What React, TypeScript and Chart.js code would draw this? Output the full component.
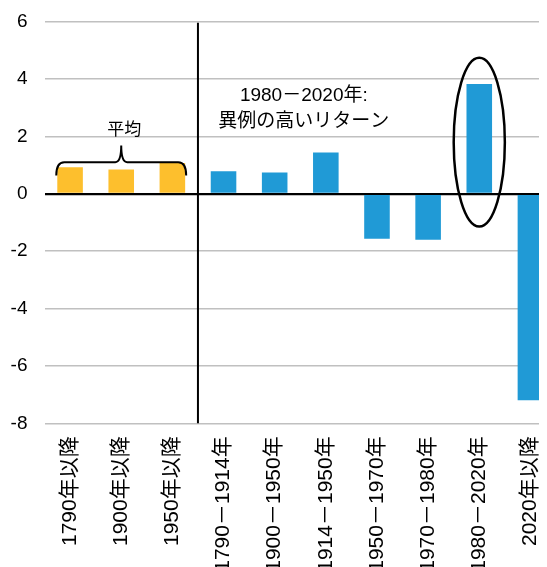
import React, { useEffect, useRef } from "react";
import { Chart, registerables } from "chart.js";

Chart.register(...registerables);

const categories = [
  "1790年以降",
  "1900年以降",
  "1950年以降",
  "1790－1914年",
  "1900－1950年",
  "1914－1950年",
  "1950－1970年",
  "1970－1980年",
  "1980－2020年",
  "2020年以降",
];
const values = [0.93, 0.85, 1.07, 0.79, 0.74, 1.44, -1.57, -1.6, 3.83, -7.2];
const averageCount = 3;
const yTicks = [6, 4, 2, 0, -2, -4, -6, -8];
const annotationLines = ["1980－2020年:", "異例の高いリターン"];
const braceLabel = "平均";

const YELLOW = "#FDBF2D";
const BLUE = "#209AD6";
const FONT = '"Liberation Sans", "Noto Sans CJK JP", sans-serif';

const annotationPlugin = {
  id: "annotations",
  afterDatasetsDraw(chart: any) {
    const { ctx, scales } = chart;
    const x = scales.x;
    const y = scales.y;
    const band = x.getPixelForValue(1) - x.getPixelForValue(0);
    ctx.save();

    // divider line
    const dx = (x.getPixelForValue(2) + x.getPixelForValue(3)) / 2;
    ctx.strokeStyle = "#000";
    ctx.lineWidth = 2;
    ctx.beginPath();
    ctx.moveTo(dx, y.getPixelForValue(6) + 1);
    ctx.lineTo(dx, y.getPixelForValue(-8));
    ctx.stroke();

    // brace
    const L = x.getPixelForValue(0) - 0.27 * band;
    const R = x.getPixelForValue(2) + 0.27 * band;
    const M = (L + R) / 2;
    const yH = y.getPixelForValue(1.1);
    const yE = y.getPixelForValue(0.64);
    const yT = y.getPixelForValue(1.68);
    ctx.lineWidth = 2;
    ctx.beginPath();
    ctx.moveTo(L, yE);
    ctx.quadraticCurveTo(L, yH, L + 8, yH);
    ctx.lineTo(M - 6, yH);
    ctx.quadraticCurveTo(M, yH, M, yT);
    ctx.quadraticCurveTo(M, yH, M + 6, yH);
    ctx.lineTo(R - 8, yH);
    ctx.quadraticCurveTo(R, yH, R, yE);
    ctx.stroke();

    ctx.fillStyle = "#000";
    ctx.textAlign = "center";
    ctx.textBaseline = "middle";
    ctx.font = `17px ${FONT}`;
    ctx.fillText(braceLabel, M + 3, y.getPixelForValue(2.2));

    // ellipse
    const ex = x.getPixelForValue(8);
    const ey = y.getPixelForValue(1.8);
    const ry = y.getPixelForValue(1.8) - y.getPixelForValue(4.74);
    ctx.lineWidth = 2.5;
    ctx.beginPath();
    ctx.ellipse(ex, ey, band * 0.5, ry, 0, 0, Math.PI * 2);
    ctx.stroke();

    // annotation text
    const tx = x.getPixelForValue(4) + 0.57 * band;
    ctx.font = `19px ${FONT}`;
    ctx.fillText(annotationLines[0], tx, y.getPixelForValue(3.43));
    ctx.fillText(annotationLines[1], tx, y.getPixelForValue(2.5));
    ctx.restore();
  },
};

export default function App() {
  const ref = useRef<HTMLCanvasElement>(null);
  useEffect(() => {
    document.documentElement.style.overflow = "hidden";
    const chart = new Chart(ref.current!, {
      type: "bar",
      data: {
        labels: categories,
        datasets: [
          {
            data: values,
            backgroundColor: values.map((_, i) => (i < averageCount ? YELLOW : BLUE)),
            categoryPercentage: 1,
            barPercentage: 0.5,
          },
        ],
      },
      options: {
        responsive: false,
        animation: false,
        layout: { padding: { top: 13.7, right: 0, left: 0, bottom: 0 } },
        plugins: { legend: { display: false }, tooltip: { enabled: false } },
        scales: {
          x: {
            grid: { display: false, drawTicks: false },
            border: { display: false },
            ticks: {
              minRotation: 90,
              maxRotation: 90,
              autoSkip: false,
              padding: 13,
              color: "#000",
              font: { family: FONT, size: 21 },
            },
            afterFit(scale: any) {
              scale.height = 143.7;
              scale.paddingLeft = 0;
              scale.paddingRight = 0;
            },
          },
          y: {
            min: -8,
            max: 6,
            afterBuildTicks(scale: any) {
              scale.ticks = yTicks.map((v) => ({ value: v }));
            },
            grid: {
              drawTicks: false,
              color: (c: any) => (c.tick && c.tick.value === 0 ? "#000" : "#c0c0c0"),
              lineWidth: (c: any) => (c.tick && c.tick.value === 0 ? 2.2 : 1.6),
            },
            border: { display: false },
            ticks: {
              padding: 17,
              color: "#000",
              font: { family: FONT, size: 19 },
            },
            afterFit(scale: any) {
              scale.width = 36.5;
              scale.paddingTop = 0;
              scale.paddingBottom = 0;
            },
          },
        },
      },
      plugins: [annotationPlugin],
    });
    return () => chart.destroy();
  }, []);
  return (
    <div style={{ width: 539, height: 559, overflow: "hidden" }}>
      <canvas ref={ref} width={548} height={559} style={{ display: "block" }} />
    </div>
  );
}
